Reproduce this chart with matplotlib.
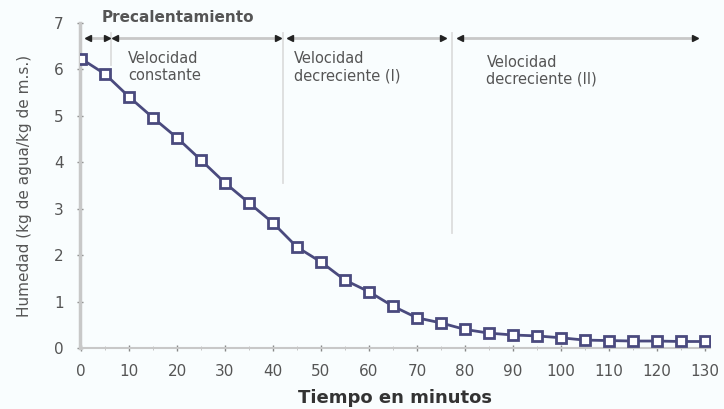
import matplotlib
matplotlib.use("Agg")
import matplotlib.pyplot as plt
import numpy as np

plt.rcParams['font.family'] = ['DejaVu Sans']

# datos
tiempo = [0, 5, 10, 15, 20, 25, 30, 35, 40, 45, 50, 55, 60, 65,
          70, 75, 80, 85, 90, 95, 100, 105, 110, 115, 120, 125, 130]
humedad = [6.23, 5.90, 5.41, 4.96, 4.53, 4.05, 3.56, 3.13, 2.70, 2.18,
           1.86, 1.47, 1.22, 0.91, 0.66, 0.55, 0.41, 0.33, 0.29, 0.27,
           0.23, 0.18, 0.17, 0.16, 0.16, 0.15, 0.15]

x_ticks = [0, 10, 20, 30, 40, 50, 60, 70, 80, 90, 100, 110, 120, 130]
y_ticks = [0, 1, 2, 3, 4, 5, 6, 7]

# etapas: (inicio, fin) en minutos
etapas = [(1.5, 5.5), (7, 41), (43.5, 75.5), (79, 128)]
separadores = [6.3, 42.0, 77.3]
fin_separadores = [6.1, 3.56, 2.48]
textos = ["Velocidad\nconstante", "Velocidad\ndecreciente (I)", "Velocidad\ndecreciente (II)"]
pos_textos = [(9.8, 6.4), (44.3, 6.4), (84.5, 6.32)]

bg = '#f9fdfe'
col = '#4a4a7e'
gris = '#c8c8c8'

fig = plt.figure(figsize=(7.24, 4.09), dpi=100, facecolor=bg)
ax = fig.add_axes([0.110, 0.148, 0.870, 0.796], facecolor=bg)

ax.plot(tiempo, humedad, '-s', color=col, lw=2, ms=6.5, mfc='white',
        mec=col, mew=2, zorder=5)

ax.set_xlim(-0.3, 131)
ax.set_ylim(0, 7)

for s in ['top', 'right']:
    ax.spines[s].set_visible(False)
ax.spines['left'].set_color(gris)
ax.spines['left'].set_linewidth(2.5)
ax.spines['bottom'].set_color(gris)
ax.spines['bottom'].set_linewidth(1.5)
ax.spines['bottom'].set_linestyle((0, (3, 1)))

ax.set_xticks(x_ticks)
ax.set_yticks(y_ticks)
ax.set_xticks(np.arange(5, 131, 10), minor=True)
ax.tick_params(axis='both', colors='#888888', labelcolor='#555555',
               labelsize=11, direction='inout', length=5, width=1)
ax.tick_params(axis='x', which='minor', colors='#bbbbbb', direction='inout', length=3)
ax.tick_params(axis='x', pad=9)
ax.tick_params(axis='y', pad=9)

# lineas separadoras
for xs, ye in zip(separadores, fin_separadores):
    ax.plot([xs, xs], [6.78, ye], color='#dddddd', lw=1.3, zorder=1, clip_on=False)

# flechas de etapas
y_fl = 6.68
for a, b in etapas:
    ax.plot([a, b], [y_fl, y_fl], color=gris, lw=2, zorder=2, clip_on=False)
    ax.plot([a], [y_fl], marker='<', color='#222222', ms=5, clip_on=False, zorder=3)
    ax.plot([b], [y_fl], marker='>', color='#222222', ms=5, clip_on=False, zorder=3)

ax.text(4.3, 7.12, "Precalentamiento", fontsize=11, fontweight='bold',
        color='#555555', va='center', ha='left', clip_on=False)
for t, (xt, yt) in zip(textos, pos_textos):
    ax.text(xt, yt, t, fontsize=10.5, color='#555555', va='top', ha='left',
            linespacing=1.2)

ax.set_xlabel("Tiempo en minutos", fontsize=13, fontweight='bold',
              color='#333333', labelpad=7)
ax.set_ylabel("Humedad (kg de agua/kg de m.s.)", fontsize=11, color='#555555',
              labelpad=16)

fig.savefig('out.png', dpi=100, facecolor=bg)
